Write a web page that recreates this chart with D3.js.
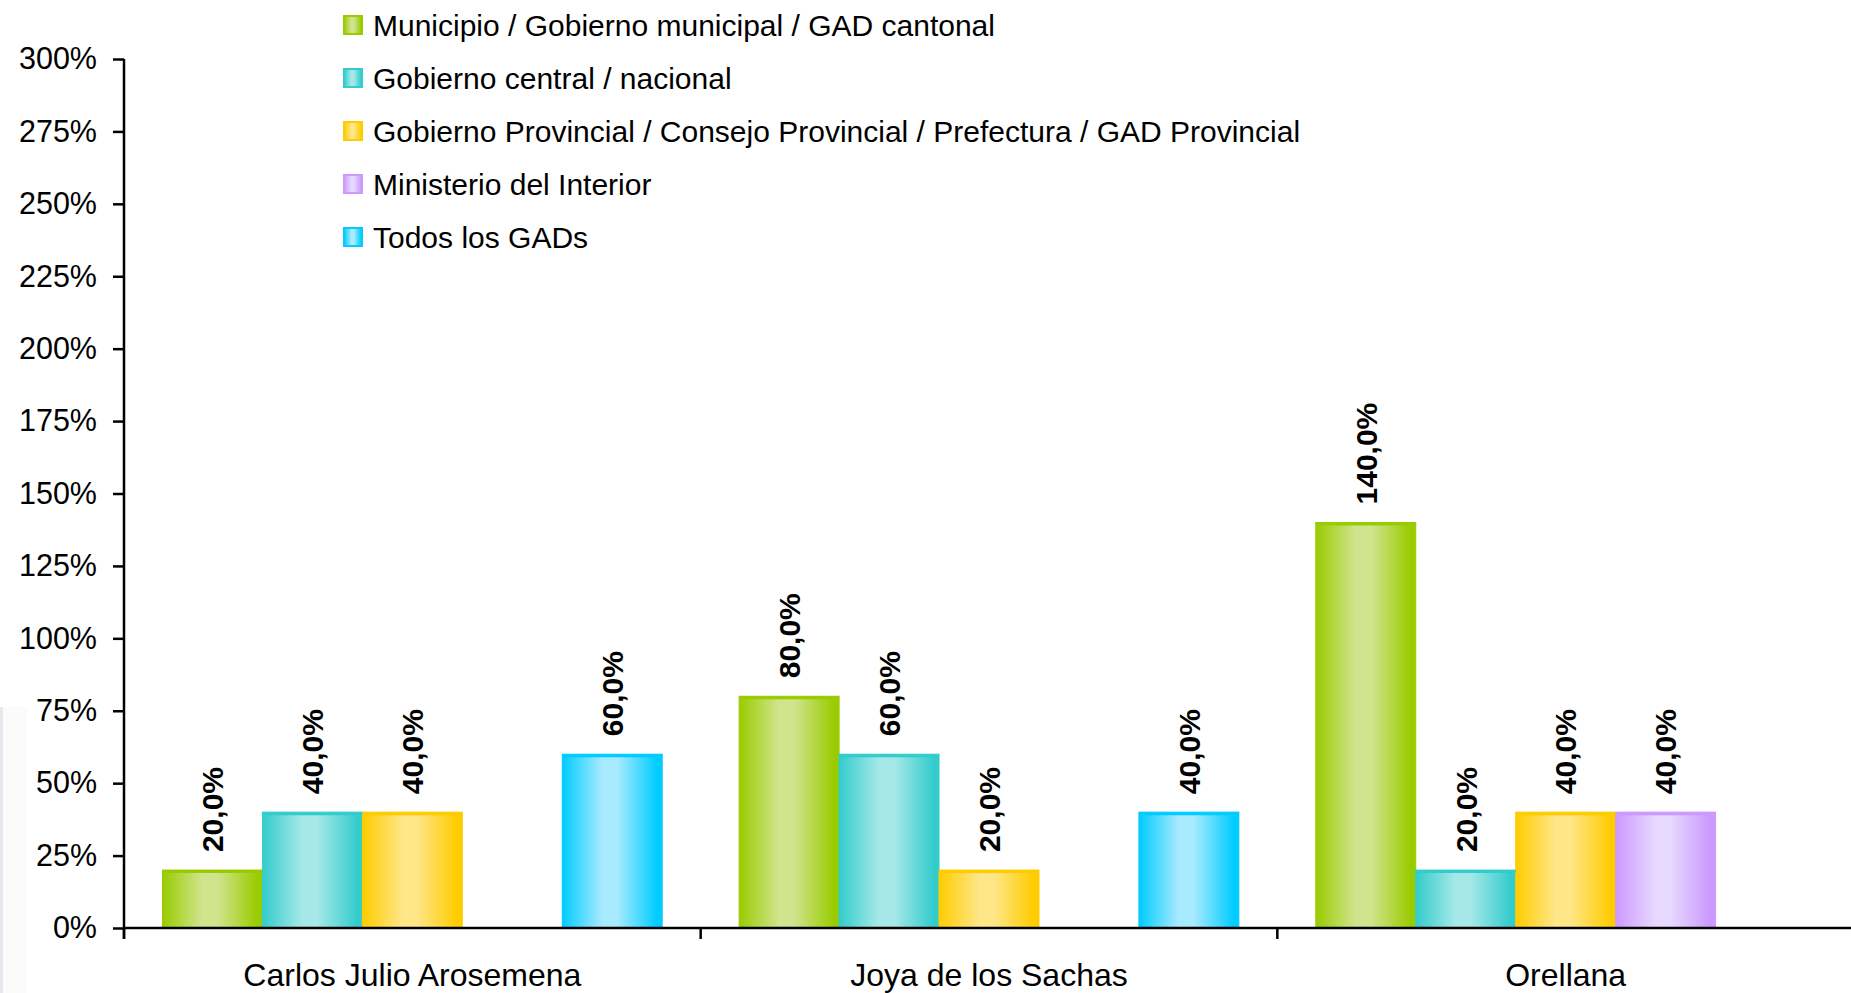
<!DOCTYPE html>
<html>
<head>
<meta charset="utf-8">
<script src="https://cdn.jsdelivr.net/npm/d3@7"></script>
<style>
  html, body { margin: 0; padding: 0; background: #fff; }
  svg { display: block; font-family: "Liberation Sans", Arial, sans-serif; }
</style>
</head>
<body>
<div id="chart"></div>
<script>
// données
const categories = ["Carlos Julio Arosemena", "Joya de los Sachas", "Orellana"];
const seriesNames = [
  "Municipio / Gobierno municipal / GAD cantonal",
  "Gobierno central / nacional",
  "Gobierno Provincial / Consejo Provincial / Prefectura / GAD Provincial",
  "Ministerio del Interior",
  "Todos los GADs"
];
const municipio = [20, 80, 140];
const gobiernoCentral = [40, 60, 20];
const gobiernoProvincial = [40, 20, 40];
const ministerio = [null, null, 40];
const todosGads = [60, 40, null];
const yTicks = [0, 25, 50, 75, 100, 125, 150, 175, 200, 225, 250, 275, 300];

const seriesValues = [municipio, gobiernoCentral, gobiernoProvincial, ministerio, todosGads];
const edgeColors = ["#99cc00", "#33cccc", "#ffcc00", "#cc99ff", "#00ccff"];
const lightColors = ["#d0e48e", "#a6e8e8", "#ffe687", "#e6d8ff", "#a8eaff"];

const width = 1851, height = 993;
const plot = { left: 124, right: 1854, top: 59, bottom: 928 };

const svg = d3.select("#chart").append("svg")
  .attr("width", width)
  .attr("height", height);

// bande grise à gauche (artefact du scan)
svg.append("rect")
  .attr("x", 0).attr("y", 707).attr("width", 3).attr("height", height - 707)
  .attr("fill", "#e6e8ee");
svg.append("rect")
  .attr("x", 3).attr("y", 707).attr("width", 24).attr("height", height - 707)
  .attr("fill", "#fbfbfc");

// dégradés
const defs = svg.append("defs");
seriesNames.forEach((s, i) => {
  const g = defs.append("linearGradient")
    .attr("id", "grad" + i)
    .attr("x1", "0").attr("x2", "1").attr("y1", "0").attr("y2", "0");
  [[0, edgeColors[i]], [0.4, lightColors[i]], [0.55, lightColors[i]], [0.95, edgeColors[i]], [1, edgeColors[i]]]
    .forEach(([o, c]) => g.append("stop").attr("offset", o).attr("stop-color", c));
});

// échelles
const x0 = d3.scaleBand()
  .domain(categories)
  .range([plot.left, plot.right])
  .padding(0);

const x1 = d3.scaleBand()
  .domain(d3.range(seriesNames.length))
  .range([0, x0.bandwidth()])
  .paddingInner(0)
  .paddingOuter(0.385);

const y = d3.scaleLinear()
  .domain([0, 300])
  .range([plot.bottom, plot.top]);

// barres
const bars = [];
categories.forEach((c, ci) => {
  seriesValues.forEach((vals, si) => {
    if (vals[ci] != null) bars.push({ cat: c, s: si, value: vals[ci] });
  });
});

const barG = svg.append("g");
barG.selectAll("rect")
  .data(bars)
  .join("rect")
  .attr("x", d => x0(d.cat) + x1(d.s))
  .attr("y", d => y(d.value))
  .attr("width", x1.bandwidth())
  .attr("height", d => y(0) - y(d.value))
  .attr("fill", d => `url(#grad${d.s})`)
  .attr("stroke", d => edgeColors[d.s])
  .attr("stroke-width", 1);

barG.selectAll("line")
  .data(bars)
  .join("line")
  .attr("x1", d => x0(d.cat) + x1(d.s))
  .attr("x2", d => x0(d.cat) + x1(d.s) + x1.bandwidth())
  .attr("y1", d => y(d.value) + 1.5)
  .attr("y2", d => y(d.value) + 1.5)
  .attr("stroke", d => edgeColors[d.s])
  .attr("stroke-width", 3);

// étiquettes de valeur
svg.append("g").selectAll("text")
  .data(bars)
  .join("text")
  .attr("transform", d => `translate(${x0(d.cat) + x1(d.s) + x1.bandwidth() / 2},${y(d.value) - 18}) rotate(-90)`)
  .attr("dy", "0.36em")
  .attr("font-size", 30)
  .attr("font-weight", "bold")
  .attr("fill", "#000")
  .text(d => d.value.toFixed(1).replace(".", ",") + "%");

// axe Y
const yAxis = svg.append("g")
  .attr("transform", `translate(${plot.left},0)`)
  .call(d3.axisLeft(y).tickValues(yTicks).tickFormat(d => d + "%").tickSizeInner(11).tickSizeOuter(0).tickPadding(16));
yAxis.select(".domain").remove();
yAxis.selectAll(".tick line").attr("stroke", "#000").attr("stroke-width", 2.5);
yAxis.selectAll(".tick text").attr("font-size", 30.5).attr("fill", "#000").attr("font-family", "Liberation Sans, Arial, sans-serif");
yAxis.append("line")
  .attr("x1", 0).attr("x2", 0)
  .attr("y1", plot.top).attr("y2", plot.bottom + 11)
  .attr("stroke", "#000").attr("stroke-width", 2.5);

// axe X
const xAxis = svg.append("g")
  .attr("transform", `translate(0,${plot.bottom})`)
  .call(d3.axisBottom(x0).tickSize(0).tickPadding(35));
xAxis.select(".domain").remove();
xAxis.selectAll(".tick text").attr("font-size", 32).attr("fill", "#000").attr("font-family", "Liberation Sans, Arial, sans-serif");
xAxis.append("line")
  .attr("x1", plot.left).attr("x2", width)
  .attr("y1", 0).attr("y2", 0)
  .attr("stroke", "#000").attr("stroke-width", 2.5);
xAxis.selectAll(".sep")
  .data(categories)
  .join("line")
  .attr("class", "sep")
  .attr("x1", d => x0(d)).attr("x2", d => x0(d))
  .attr("y1", 0).attr("y2", 11)
  .attr("stroke", "#000").attr("stroke-width", 2.5);

// légende
const legend = svg.append("g");
const rowY = d3.scalePoint().domain(d3.range(seriesNames.length)).range([25, 237]);
const item = legend.selectAll("g")
  .data(seriesNames)
  .join("g")
  .attr("transform", (d, i) => `translate(343,${rowY(i)})`);
item.append("rect")
  .attr("x", 1).attr("y", -9).attr("width", 18).attr("height", 18)
  .attr("fill", (d, i) => `url(#grad${i})`)
  .attr("stroke", (d, i) => edgeColors[i])
  .attr("stroke-width", 2);
item.append("text")
  .attr("x", 30)
  .attr("dy", "0.36em")
  .attr("font-size", 30)
  .attr("fill", "#000")
  .text(d => d);
</script>
</body>
</html>
